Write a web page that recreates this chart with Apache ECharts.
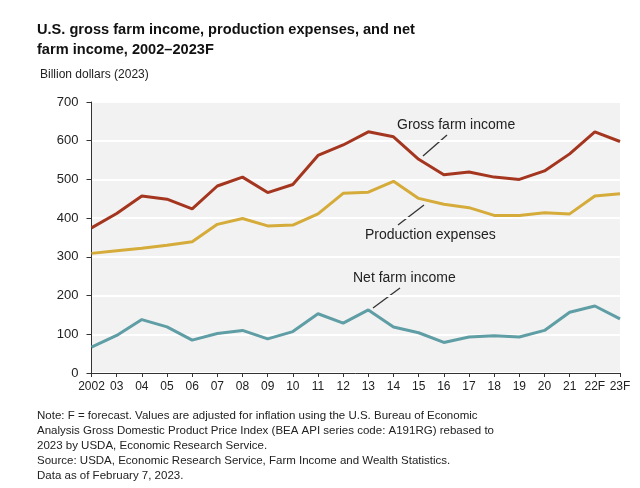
<!DOCTYPE html>
<html>
<head>
<meta charset="utf-8">
<script src="https://cdn.jsdelivr.net/npm/echarts@6/dist/echarts.min.js"></script>
<style>
  html, body { margin: 0; padding: 0; background: #fff; }
  #chart { width: 640px; height: 488px; }
</style>
</head>
<body>
<div id="chart"></div>
<script>
var years = ['2002', '03', '04', '05', '06', '07', '08', '09', '10', '11', '12',
  '13', '14', '15', '16', '17', '18', '19', '20', '21', '22F', '23F']
var grossIncome = [375, 412, 457, 449, 424, 483, 506, 466, 487, 562, 589,
  623, 610, 552, 512, 519, 506, 500, 522, 566, 623, 598]
var prodExpenses = [309, 316, 322, 330, 339, 384, 399, 380, 382, 411, 464,
  467, 495, 451, 436, 427, 407, 407, 414, 411, 457, 463]
var netIncome = [67, 97, 138, 119, 85, 102, 110, 88, 107, 153, 129,
  163, 119, 104, 79, 93, 96, 93, 110, 157, 173, 140]
var yTicks = [0, 100, 200, 300, 400, 500, 600, 700]

var font = 'Liberation Sans, Arial, Helvetica, sans-serif'
var colors = ['#a4361f', '#d5ab3a', '#5f9ea5']

var chart = echarts.init(document.getElementById('chart'))

function lineSeries(name, data, color) {
  return {
    name: name,
    type: 'line',
    data: data,
    symbol: 'none',
    smooth: false,
    lineStyle: { color: color, width: 3 },
    itemStyle: { color: color },
    animation: false
  }
}

// note text under the chart
var notes = [
  'Note: F = forecast. Values are adjusted for inflation using the U.S. Bureau of Economic',
  'Analysis Gross Domestic Product Price Index (BEA API series code: A191RG) rebased to',
  '2023 by USDA, Economic Research Service.',
  'Source: USDA, Economic Research Service, Farm Income and Wealth Statistics.',
  'Data as of February 7, 2023.'
]

chart.setOption({
  backgroundColor: '#fff',
  animation: false,
  title: [{
    text: 'U.S. gross farm income, production expenses, and net\nfarm income, 2002\u20132023F',
    left: 32,
    top: 15,
    textStyle: { fontFamily: font, fontSize: 14.6, fontWeight: 'bold', color: '#111', lineHeight: 20 }
  }, {
    text: 'Billion dollars (2023)',
    left: 35,
    top: 64,
    textStyle: { fontFamily: font, fontSize: 12, fontWeight: 'normal', color: '#222' }
  }, {
    text: notes.join('\n'),
    left: 32,
    top: 403,
    textStyle: { fontFamily: font, fontSize: 11.5, fontWeight: 'normal', color: '#222', lineHeight: 15 }
  }],
  grid: {
    left: 91.5,
    right: 20,
    top: 102,
    bottom: 115,
    show: true,
    backgroundColor: '#f2f2f2',
    borderWidth: 0
  },
  xAxis: {
    type: 'category',
    data: years,
    boundaryGap: false,
    axisLine: { lineStyle: { color: '#333', width: 1 } },
    axisTick: { show: true, alignWithLabel: true, length: 4, lineStyle: { color: '#333' } },
    axisLabel: { fontFamily: font, fontSize: 12, color: '#222', margin: 8, interval: 0 },
    splitLine: { show: false }
  },
  yAxis: {
    type: 'value',
    min: yTicks[0],
    max: yTicks[yTicks.length - 1],
    interval: 100,
    axisLine: { show: true, lineStyle: { color: '#333', width: 1 } },
    axisTick: { show: true, length: 5, lineStyle: { color: '#333' } },
    axisLabel: { fontFamily: font, fontSize: 13, color: '#222', margin: 13 },
    splitLine: { show: true, lineStyle: { color: '#ffffff', width: 2 } }
  },
  series: [
    lineSeries('Gross farm income', grossIncome, colors[0]),
    lineSeries('Production expenses', prodExpenses, colors[1]),
    lineSeries('Net farm income', netIncome, colors[2])
  ],
  graphic: [
    // series labels with leader lines
    { type: 'text', left: 397, top: 118, style: { text: 'Gross farm income', font: '14px ' + font, fill: '#222' } },
    { type: 'line', shape: { x1: 447, y1: 135, x2: 423, y2: 156 }, style: { stroke: '#333', lineWidth: 1.3 } },
    { type: 'text', left: 365, top: 228, style: { text: 'Production expenses', font: '14px ' + font, fill: '#222' } },
    { type: 'line', shape: { x1: 398, y1: 225, x2: 424, y2: 205 }, style: { stroke: '#333', lineWidth: 1.3 } },
    { type: 'text', left: 353, top: 271, style: { text: 'Net farm income', font: '14px ' + font, fill: '#222' } },
    { type: 'line', shape: { x1: 400, y1: 288, x2: 373, y2: 308 }, style: { stroke: '#333', lineWidth: 1.3 } }
  ]
})
</script>
</body>
</html>
